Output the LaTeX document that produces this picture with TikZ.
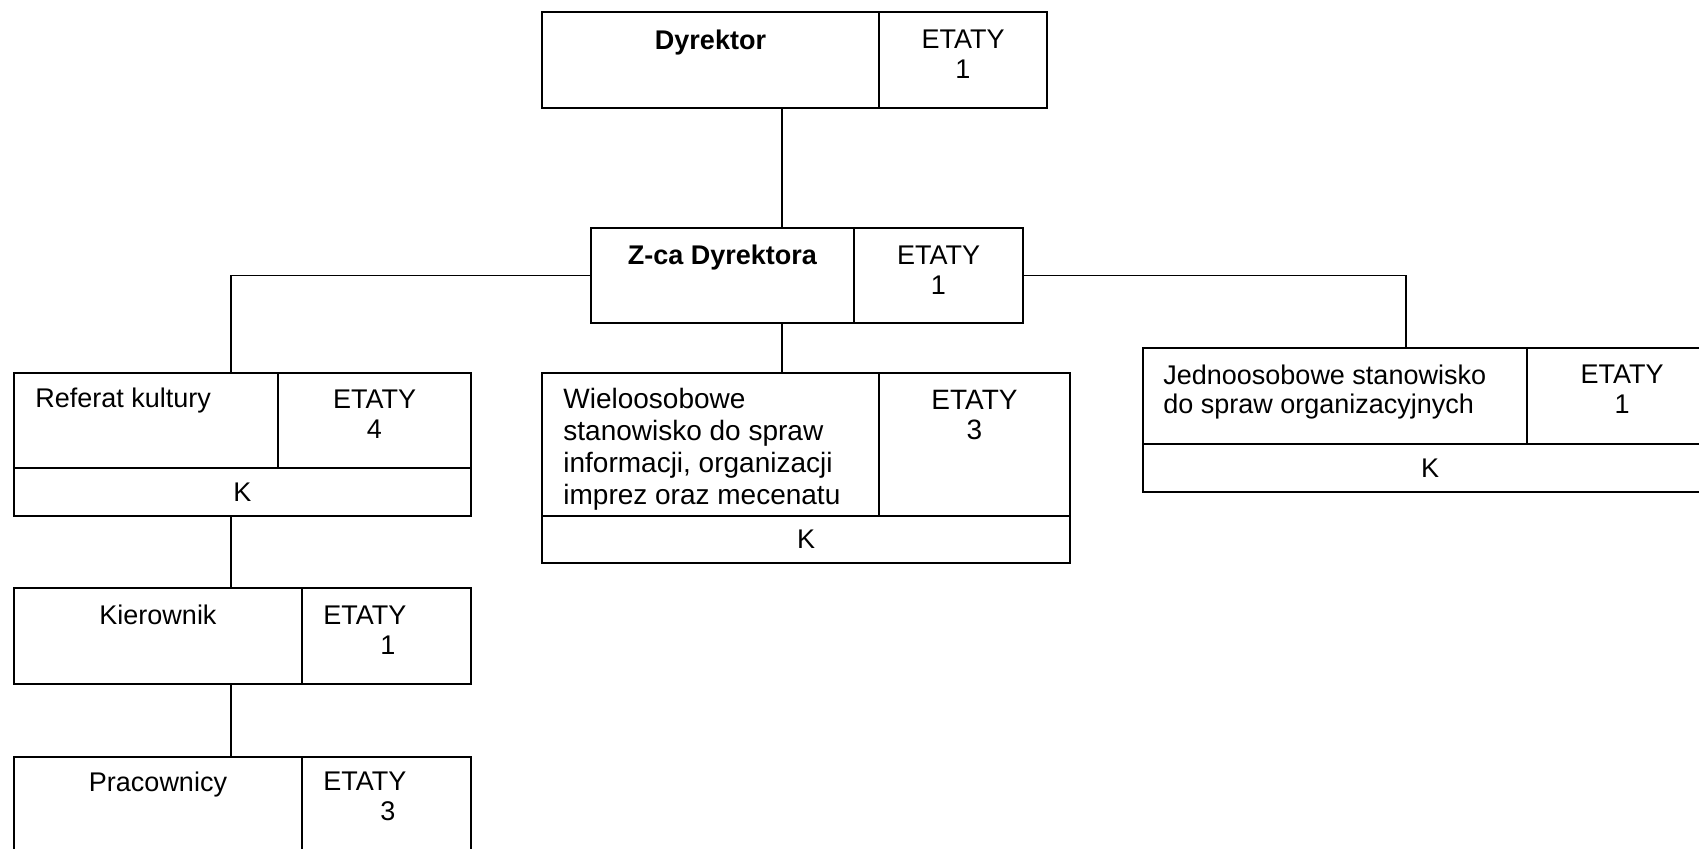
\documentclass[tikz,border=0pt]{standalone}
\usepackage{fontspec}
\setmainfont{Liberation Sans}
\usepackage{tikz}
\usetikzlibrary{positioning}

\begin{document}
\begin{tikzpicture}[x=0.5pt,y=-0.5pt,
    cell/.style={draw, rectangle, inner sep=0pt, outer sep=0pt, line width=0.9pt},
    txt/.style={inner sep=0pt, font=\fontsize{13.5}{14.5}\selectfont},
    etaty/.style={txt, align=center, font=\fontsize{13.5}{15}\selectfont},
    link/.style={line width=0.9pt}]
    \useasboundingbox (0,0) rectangle (1699,848);
    \clip (0,0) rectangle (1699,848);

    %Shape: Rectangle Dyrektor
    \node[cell, anchor=north west, minimum width=168.5pt, minimum height=48pt] (dyr) at (542,12) {};
    \node[cell, right=0pt of dyr, minimum width=84pt, minimum height=48pt] (dyrE) {};
    %Shape: Rectangle Z-ca Dyrektora
    \node[cell, anchor=north west, minimum width=131.5pt, minimum height=47.5pt] (zca) at (591,228) {};
    \node[cell, right=0pt of zca, minimum width=84.5pt, minimum height=47.5pt] (zcaE) {};
    %Shape: Rectangle Referat kultury
    \node[cell, anchor=north west, minimum width=132pt, minimum height=47.5pt] (ref) at (14,373) {};
    \node[cell, right=0pt of ref, minimum width=96.5pt, minimum height=47.5pt] (refE) {};
    \node[cell, anchor=north west, minimum width=228.5pt, minimum height=24pt, txt] (refK) at (ref.south west) {K};
    %Shape: Rectangle Wieloosobowe
    \node[cell, anchor=north west, minimum width=168.5pt, minimum height=71.5pt] (wiel) at (542,373) {};
    \node[cell, right=0pt of wiel, minimum width=95.5pt, minimum height=71.5pt] (wielE) {};
    \node[cell, anchor=north west, minimum width=264pt, minimum height=23.5pt, txt] (wielK) at (wiel.south west) {K};
    %Shape: Rectangle Jednoosobowe
    \node[cell, anchor=north west, minimum width=192pt, minimum height=48pt] (jed) at (1143,348) {};
    \node[cell, right=0pt of jed, minimum width=95pt, minimum height=48pt] (jedE) {};
    \node[cell, anchor=north west, minimum width=287pt, minimum height=24pt, txt] (jedK) at (jed.south west) {K};
    %Shape: Rectangle Kierownik
    \node[cell, anchor=north west, minimum width=144pt, minimum height=48pt] (kier) at (14,588) {};
    \node[cell, right=0pt of kier, minimum width=84.5pt, minimum height=48pt] (kierE) {};
    %Shape: Rectangle Pracownicy
    \node[cell, anchor=north west, minimum width=144pt, minimum height=50pt] (prac) at (14,757) {};
    \node[cell, right=0pt of prac, minimum width=84.5pt, minimum height=50pt] (pracE) {};

    %Straight Lines
    \draw[link] ([xshift=120pt]dyr.south west) -- ([xshift=120pt]dyr.south west |- zca.north);
    \draw[link] ([xshift=120pt]wiel.north west) -- ([xshift=120pt]wiel.north west |- zca.south);
    \draw[link] (zca.west) -| ([xshift=108.5pt]ref.north west);
    \draw[link] (zcaE.east) -| ([xshift=131.5pt]jed.north west);
    \draw[link] ([xshift=108.5pt]refK.south west) -- ([xshift=108.5pt]kier.north west);
    \draw[link] ([xshift=108.5pt]kier.south west) -- ([xshift=108.5pt]prac.north west);

    % Text Node
    \node[txt, below=9pt of dyr.north] (dyrT) {\textbf{Dyrektor}};
    \node[etaty, below=9pt of dyrE.north] (dyrET) {ETATY\\1};
    % Text Node
    \node[txt, below=8.5pt of zca.north] (zcaT) {\textbf{Z-ca Dyrektora}};
    \node[etaty, below=9pt of zcaE.north] (zcaET) {ETATY\\1};
    % Text Node
    \node[txt, below right=7.5pt and 10.5pt of ref.north west] (refT) {Referat kultury};
    \node[etaty, below=8.5pt of refE.north] (refET) {ETATY\\4};
    % Text Node
    \node[txt, align=left, font=\fontsize{14}{16}\selectfont, below right=7.5pt and 10.5pt of wiel.north west] (wielT) {Wieloosobowe\\stanowisko do spraw\\informacji, organizacji\\imprez oraz mecenatu};
    \node[etaty, font=\fontsize{14}{15}\selectfont, below=8.5pt of wielE.north] (wielET) {ETATY\\3};
    % Text Node
    \node[txt, align=left, below right=8.5pt and 10pt of jed.north west] (jedT) {Jednoosobowe stanowisko\\do spraw organizacyjnych};
    \node[etaty, below=8.5pt of jedE.north] (jedET) {ETATY\\1};
    % Text Node
    \node[txt, below=8.5pt of kier.north] (kierT) {Kierownik};
    \node[etaty, align=left, below right=9pt and 10.5pt of kierE.north west] (kierET) {ETATY\\\hspace*{28.5pt}1};
    % Text Node
    \node[txt, below=7.5pt of prac.north] (pracT) {Pracownicy};
    \node[etaty, align=left, below right=7.5pt and 10.5pt of pracE.north west] (pracET) {ETATY\\\hspace*{28.5pt}3};

\end{tikzpicture}
\end{document}
